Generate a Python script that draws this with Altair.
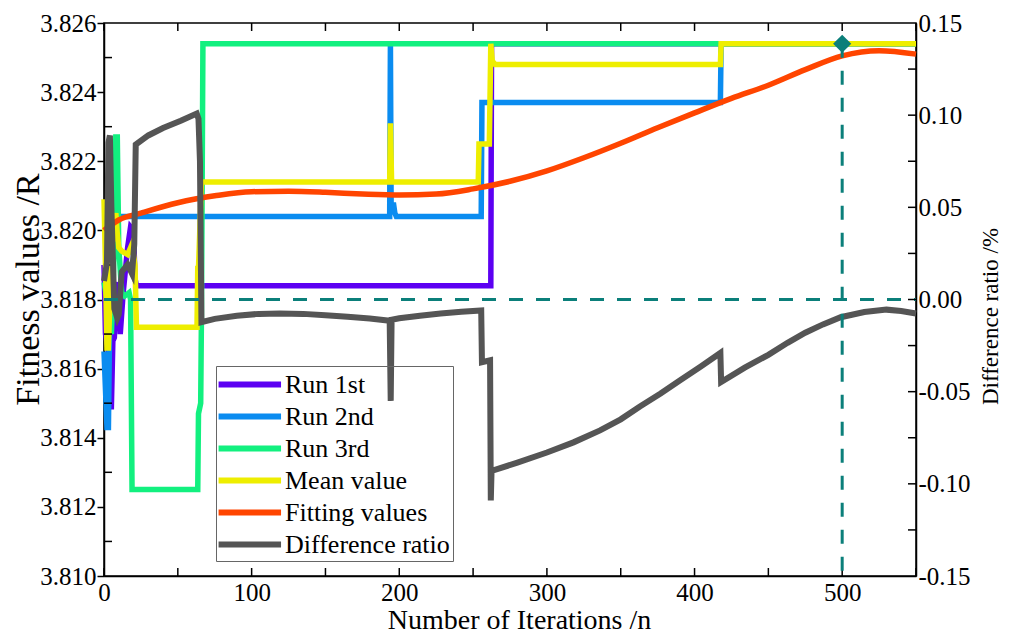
import altair as alt
import pandas as pd

FONT = "Liberation Serif"

# ---------------- data ----------------
run1_x = [0, 1, 3, 4, 5, 6, 7, 8, 10, 11, 13, 16, 18, 20, 21, 22, 262, 262.5, 550]
run1_y = [3.8190, 3.8170, 3.8165, 3.8149, 3.8149, 3.8168, 3.8169, 3.8180, 3.8185, 3.8170,
          3.8182, 3.8195, 3.8201, 3.8200, 3.8186, 3.8184, 3.8184, 3.8254, 3.8254]

run2_x = [0, 2, 3, 4, 5, 6, 193.5, 194, 194.5, 196, 197, 198, 255.5, 256, 417.5, 418, 550]
run2_y = [3.8165, 3.8143, 3.8143, 3.8180, 3.8204, 3.8204, 3.8204, 3.8254, 3.8205, 3.8208,
          3.8205, 3.8204, 3.8204, 3.8237, 3.8237, 3.8254, 3.8254]

run3_x = [0, 3, 5, 7, 8, 9, 10, 12, 14, 17, 18, 19, 63.5, 64, 65.5, 66, 67, 550]
run3_y = [3.8185, 3.8178, 3.8170, 3.8195, 3.8227, 3.8227, 3.8195, 3.8182, 3.8181, 3.8182,
          3.8180, 3.8125, 3.8125, 3.8147, 3.8150, 3.8175, 3.8254, 3.8254]

mean_x = [0, 1, 2, 3, 4, 5, 7, 8, 9, 10, 12, 16, 19, 21, 22, 63, 63.5, 64, 66, 193.5, 194,
          194.8, 196, 253.5, 254, 261, 262, 263, 265, 417.5, 418, 550]
mean_y = [3.8209, 3.8190, 3.8166, 3.8166, 3.8180, 3.8195, 3.8200, 3.8205, 3.8199, 3.8195,
          3.8194, 3.8193, 3.8196, 3.8190, 3.8172, 3.8172, 3.8189, 3.8189, 3.8214, 3.8214,
          3.8231, 3.8214, 3.8214, 3.8214, 3.8225, 3.8225, 3.8254, 3.8249, 3.8248, 3.8248,
          3.8254, 3.8254]

fit_x = [0, 10, 25, 50, 75, 100, 125, 150, 175, 200, 225, 250, 275, 300, 325, 350, 375,
         400, 425, 450, 475, 500, 525, 550]
fit_y = [3.8200, 3.8203, 3.8205, 3.8208, 3.8210, 3.82112, 3.82113, 3.8211, 3.82105, 3.82102,
         3.82105, 3.8212, 3.82142, 3.82172, 3.8221, 3.82252, 3.82297, 3.8234, 3.82382, 3.8242,
         3.82465, 3.82505, 3.8252, 3.8251]

diff_x = [0, 2, 3, 4, 5, 7, 9, 10, 12, 16, 19, 20.5, 21.5, 30, 40, 52, 62.8, 64, 65, 66,
          75, 90, 105, 119, 135, 150, 165, 180, 193.5, 194.2, 194.8, 200, 214, 228, 242,
          255.5, 256, 261.5, 262, 262.5, 280, 300, 318, 336, 350, 363, 377, 390, 404, 417.5,
          418, 434, 450, 463, 475, 487, 499, 515, 530, 540, 550]
diff_y = [0.010, 0.020, 0.085, 0.089, 0.050, -0.005, -0.010, -0.008, 0.015, 0.019, 0.014,
          0.030, 0.084, 0.089, 0.093, 0.097, 0.1009, 0.098, 0.075, -0.0123,
          -0.0105, -0.0088, -0.0078, -0.0076, -0.0078, -0.0085, -0.0094, -0.0103, -0.0115,
          -0.055, -0.011, -0.0102, -0.0088, -0.0076, -0.0067,
          -0.006, -0.034, -0.033, -0.109, -0.093, -0.0885, -0.083, -0.0775, -0.071, -0.065,
          -0.058, -0.051, -0.044, -0.0365, -0.029,
          -0.0448, -0.037, -0.030, -0.0235, -0.018, -0.0135, -0.0096, -0.0068, -0.0055,
          -0.0062, -0.0076]

series_names = ["Run 1st", "Run 2nd", "Run 3rd", "Mean value", "Fitting values", "Difference ratio"]
series_colors = ["#5c00f2", "#0a8cf0", "#12f07f", "#eeee00", "#ff4500", "#555555"]

optimum_x = [500]
optimum_y = [3.8254]
zero_ratio = [0.0]

x_major = [0, 100, 200, 300, 400, 500]
x_minor = [0, 50, 100, 150, 200, 250, 300, 350, 400, 450, 500, 550]
y_left_major = [3.810, 3.812, 3.814, 3.816, 3.818, 3.820, 3.822, 3.824, 3.826]
y_left_minor = [3.811, 3.813, 3.815, 3.817, 3.819, 3.821, 3.823, 3.825]
y_right_major = [-0.15, -0.10, -0.05, 0.0, 0.05, 0.10, 0.15]
y_right_minor = [-0.125, -0.10, -0.075, -0.05, -0.025, 0.0, 0.025, 0.05, 0.075, 0.10, 0.125]

# ---------------- build tables ----------------
def make_df(name, xs, ys):
    return pd.DataFrame({"series": name, "x": xs, "y": ys, "i": range(len(xs))})

left_series = [("Run 1st", run1_x, run1_y), ("Run 2nd", run2_x, run2_y),
               ("Run 3rd", run3_x, run3_y), ("Mean value", mean_x, mean_y),
               ("Fitting values", fit_x, fit_y)]

W, H = 812, 553
TEAL = "#0b7f7a"

x_scale = alt.Scale(domain=[0, 550], nice=False, zero=False)
yl_scale = alt.Scale(domain=[3.810, 3.826], nice=False, zero=False)
yr_scale = alt.Scale(domain=[-0.15, 0.15], nice=False, zero=False)

legend = alt.Legend(
    title=None, orient="none", legendX=112, legendY=343,
    symbolType="M-1.3,0H3.8", symbolSize=600, symbolStrokeWidth=6,
    labelFont=FONT, labelFontSize=26, labelOffset=35, labelLimit=400,
    rowPadding=3, padding=3, strokeColor="#666666", labelColor="black",
)
color_enc = alt.Color("series:N", scale=alt.Scale(domain=series_names, range=series_colors),
                      legend=legend)

x_axis = alt.Axis(values=x_major, tickSize=0, labelPadding=4, labelFont=FONT, labelFontSize=25,
                  labelFlush=False,
                  title="Number of Iterations /n", titleFont=FONT, titleFontSize=28,
                  titleFontWeight="normal", titleX=415, titleY=44, titleBaseline="middle",
                  titleAlign="center")
yl_axis = alt.Axis(values=y_left_major, format=".3f", tickSize=7, labelPadding=1,
                   labelFont=FONT, labelFontSize=25, labelFlush=False,
                   title="Fitness values /R", titleFont=FONT, titleFontSize=34,
                   titleFontWeight="normal", titleAngle=270, titleX=-76, titleY=266,
                   titleBaseline="middle", titleAlign="center")
yr_axis = alt.Axis(values=y_right_major, tickSize=0, labelPadding=2, orient="right",
                   labelExpr="(datum.value < 0 ? '-' : '') + format(abs(datum.value), '.2f')",
                   labelFont=FONT, labelFontSize=25, labelFlush=False,
                   title="Difference ratio /%", titleFont=FONT, titleFontSize=23,
                   titleFontWeight="normal", titleAngle=270, titleX=74, titleY=293,
                   titleBaseline="middle", titleAlign="center")

X = lambda f: alt.X(f, scale=x_scale, axis=x_axis)
YL = lambda f: alt.Y(f, scale=yl_scale, axis=yl_axis)
YR = lambda f: alt.Y(f, scale=yr_scale, axis=yr_axis)

left_layers = []
for name, xs, ys in left_series:
    left_layers.append(alt.Chart(make_df(name, xs, ys)).mark_line(
        strokeWidth=5.5, interpolate="monotone" if name == "Fitting values" else "linear").encode(
        x=X("x:Q"), y=YL("y:Q"), color=color_enc, order="i:Q"))

# inward minor ticks on the left, bottom and top sides
left_minor = alt.Chart(pd.DataFrame({"v": y_left_minor})).mark_rule(color="black", strokeWidth=1.5).encode(
    y=YL("v:Q"), x=alt.value(0), x2=alt.value(8))
bottom_ticks = alt.Chart(pd.DataFrame({"v": x_minor})).mark_rule(color="black", strokeWidth=1.5).encode(
    x=X("v:Q"), y=alt.value(H), y2=alt.value(H - 8))
top_ticks = alt.Chart(pd.DataFrame({"v": x_minor})).mark_rule(color="black", strokeWidth=1.5).encode(
    x=X("v:Q"), y=alt.value(0), y2=alt.value(8))

left = alt.layer(*left_layers, left_minor, bottom_ticks, top_ticks)

# right (difference ratio) layer
diff_line = alt.Chart(make_df("Difference ratio", diff_x, diff_y)).mark_line(strokeWidth=6).encode(
    x=X("x:Q"), y=YR("y:Q"), color=color_enc, order="i:Q")
zero_line = alt.Chart(pd.DataFrame({"v": zero_ratio})).mark_rule(
    color=TEAL, strokeWidth=3, strokeDash=[14, 13]).encode(
    y=YR("v:Q"), x=alt.value(0), x2=alt.value(W))
right_ticks = alt.Chart(pd.DataFrame({"v": y_right_minor})).mark_rule(color="black", strokeWidth=1.5).encode(
    y=YR("v:Q"), x=alt.value(W - 8), x2=alt.value(W))
right = alt.layer(diff_line, zero_line, right_ticks)

# optimum marker layer (left scale, same explicit domain, no axis of its own)
opt_df = pd.DataFrame({"x": optimum_x, "y": optimum_y, "y0": [3.810]})
v_line = alt.Chart(opt_df).mark_rule(color=TEAL, strokeWidth=3, strokeDash=[14, 13]).encode(
    x=X("x:Q"), y=alt.Y("y:Q", scale=yl_scale, axis=None), y2="y0:Q")
diamond = alt.Chart(opt_df).mark_point(shape="diamond", filled=True, size=330, color=TEAL, opacity=1).encode(
    x=X("x:Q"), y=alt.Y("y:Q", scale=yl_scale, axis=None))
marker = alt.layer(v_line, diamond)

chart = alt.layer(left, right, marker).resolve_scale(y="independent").properties(
    width=W, height=H,
    padding={"left": 104, "top": 23, "right": 98, "bottom": 61},
    autosize=alt.AutoSizeParams(type="none"),
    background="white",
).configure(font=FONT).configure_view(stroke="black", strokeWidth=1.5).configure_axis(
    grid=False, domainColor="black", domainWidth=1.5, tickColor="black", tickWidth=1.5,
    labelColor="black", titleColor="black", labelFont=FONT, titleFont=FONT,
).configure_legend(labelFont=FONT)

chart.save("out.html", embed_options={"renderer": "svg", "actions": False})
